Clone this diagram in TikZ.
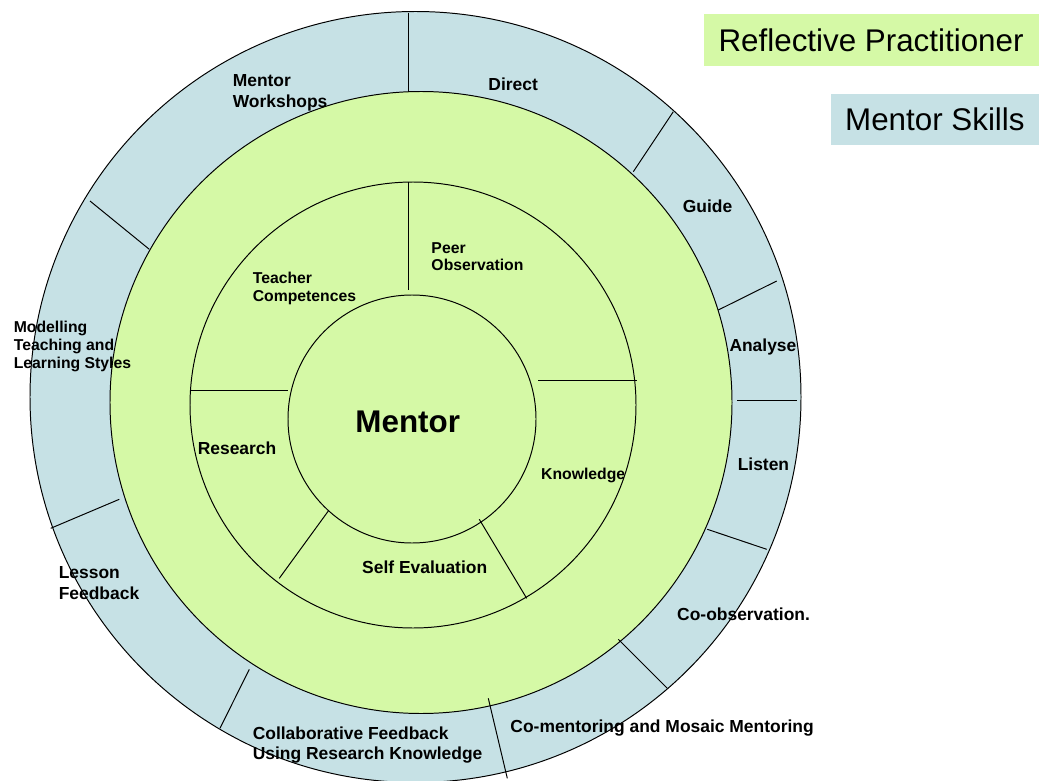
\documentclass[tikz,border=0pt]{standalone}
\usepackage{fontspec}
\setmainfont{Liberation Sans}
\usepackage{xcolor}

\definecolor{ringgreen}{RGB}{213,249,166}
\definecolor{ringblue}{RGB}{198,225,229}

\begin{document}
\begin{tikzpicture}[x=0.025cm, y=-0.025cm, line width=0.7pt,
    lbl/.style={font=\fontsize{12.4}{14.7}\selectfont\bfseries, align=left, inner sep=0pt, anchor=base west},
    slbl/.style={font=\fontsize{11.2}{12.6}\selectfont\bfseries, align=left, inner sep=0pt, anchor=base west},
    legend/.style={font=\fontsize{22.3}{26}\selectfont, inner sep=0pt, anchor=north east}]
      \useasboundingbox (0,0) rectangle (1039,781);

      % Rings
      \filldraw[fill=ringblue] (415.5,397) circle[radius=385.5];
      \filldraw[fill=ringgreen] (421,402.5) circle[radius=311];
      \draw (413,405) circle[radius=223];
      \draw (412,419) circle[radius=124];

      % Mentor skills dividers
      \draw (408,12.7) -- (408,92);
      \draw (673.3,111.7) -- (633.3,171.7);
      \draw (776.7,281) -- (718.3,310);
      \draw (737,400) -- (797,400);
      \draw (707.3,529.3) -- (766.7,549.3);
      \draw (618.3,639.3) -- (667.3,688.3);
      \draw (488.3,698.3) -- (507.3,778.3);
      \draw (249.3,669.3) -- (220,728.3);
      \draw (119.3,499.3) -- (50.7,528.3);
      \draw (90,201) -- (149.3,249.3);

      % Reflective practitioner dividers
      \draw (408,181.7) -- (408,290);
      \draw (538.3,380) -- (637.3,380);
      \draw (479.3,519.3) -- (526.7,598.3);
      \draw (328.3,511) -- (279.3,578.3);
      \draw (190,390) -- (288.3,390);

      % Mentor skills (multi-line nodes sit on their last baseline)
      \node[lbl] (workshops) at (232.3,107.3) {Mentor\\Workshops};
      \node[lbl] (direct) at (488,90.7) {Direct};
      \node[lbl] (guide) at (682.3,212.3) {Guide};
      \node[lbl] (analyse) at (729,351.7) {Analyse};
      \node[lbl] (listen) at (737.3,470.7) {Listen};
      \node[lbl] (coobs) at (676.7,620) {Co-observation.};
      \node[lbl] (comentoring) at (510,732.7) {Co-mentoring and Mosaic Mentoring};
      \node[lbl, font=\fontsize{12.4}{14.4}\selectfont\bfseries] (collab) at (252.3,759.3) {Collaborative Feedback\\Using Research Knowledge};
      \node[lbl] (lesson) at (58.3,599) {Lesson\\Feedback};
      \node[slbl, font=\fontsize{11.2}{12.8}\selectfont\bfseries] (modelling) at (13.3,368.3) {Modelling\\Teaching and\\Learning Styles};

      % Reflective practitioner
      \node[slbl] (competences) at (252.3,301) {Teacher\\Competences};
      \node[slbl, font=\fontsize{11.2}{12.3}\selectfont\bfseries] (peer) at (431,270.7) {Peer\\Observation};
      \node[lbl] (research) at (197.3,454) {Research};
      \node[slbl] (knowledge) at (540.7,479) {Knowledge};
      \node[lbl] (selfeval) at (361.7,573.3) {Self Evaluation};

      % Centre
      \node[font=\fontsize{22.3}{26}\selectfont\bfseries, inner sep=0pt, anchor=base west] (mentor) at (355,432.3) {Mentor};

      % Key
      \node[legend, fill=ringgreen, minimum width=8.37cm, minimum height=1.275cm] (keyreflective) at (1039,14) {Reflective Practitioner};
      \node[legend, fill=ringblue, minimum width=5.18cm, minimum height=1.27cm] (keyskills) at (1039,93.3) {Mentor Skills};
    \end{tikzpicture}
\end{document}
